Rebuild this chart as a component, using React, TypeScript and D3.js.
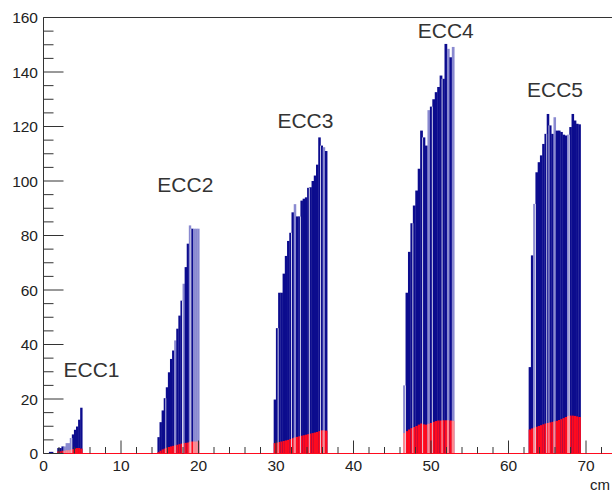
import React from "react";
import * as d3 from "d3";

// ---- data ----
const eccNames = ["ECC1", "ECC2", "ECC3", "ECC4", "ECC5"];
const eccStart = [0.7, 14.7, 29.7, 46.4, 62.6];
const eccEnd = [5.0, 20.1, 36.6, 53.0, 69.3];

const ecc1Blue = [0.6, 0.6, 0, 0, 2, 2, 2.6, 2.6, 3.8, 3.8, 5.7, 7, 8.7, 9.9, 12.4, 16.8];
const ecc1Red = [0, 0, 0, 0, 0.8, 0.8, 1, 1, 1.2, 1.2, 1.4, 1.6, 1.8, 2, 2, 1.8];
const ecc1Light = [7, 8, 9, 10];
const ecc1Gaps = [11];

const ecc2Blue = [6, 11.5, 15.8, 20.3, 24.3, 29.8, 34.7, 37.8, 41.5, 45.8, 50.6, 56.1, 62.3, 68.4, 77, 83.7, 82.5, 82.5, 82.5, 82.5];
const ecc2Red = [0.5, 1, 1.5, 1.8, 2.1, 2.4, 2.6, 2.8, 3, 3.2, 3.4, 3.6, 3.8, 3.9, 4, 4.3, 4.4, 4.4, 4.4, 4.4];
const ecc2Light = [8, 12, 15, 17, 18, 19];
const ecc2Gaps = [4, 12, 16];

const ecc3Blue = [19.8, 46, 59, 59, 66, 72.5, 78, 81, 88.5, 91.5, 87, 87, 92.8, 93.5, 94, 97.5, 97.7, 100, 102, 106, 116, 113, 112.4, 111];
const ecc3Red = [3.8, 4, 4.2, 4.4, 4.6, 4.8, 5, 5.3, 5.6, 5.9, 6.1, 6.3, 6.5, 6.7, 6.9, 7.1, 7.3, 7.5, 7.7, 7.9, 8.2, 8.5, 8.5, 8.4];
const ecc3Light = [9, 22];
const ecc3Gaps = [2, 8, 12, 16, 21];

const ecc4Blue = [25, 59, 74, 84.5, 91, 96.5, 104.5, 118.5, 116, 113, 126, 127.3, 130, 132.6, 134.5, 138.7, 137.5, 150.3, 148.5, 145.4, 149.2];
const ecc4Red = [7.5, 8.2, 8.8, 9.3, 9.7, 10.1, 10.6, 11, 10.7, 10.6, 10.9, 11.2, 11.6, 11.9, 12.1, 12.1, 12.2, 12.2, 12.2, 12.1, 12];
const ecc4Light = [0, 10, 18, 20];
const ecc4Gaps = [1, 4, 8, 12, 16];

const ecc5Blue = [31.7, 72.7, 91.6, 103.2, 106.9, 109.4, 113.6, 117.3, 124.6, 120.4, 117.3, 123.4, 118.5, 118.5, 118, 117, 116.7, 117, 119.8, 124.6, 122.2, 121, 120.8];
const ecc5Red = [8.8, 9.2, 9.5, 9.8, 10.1, 10.4, 10.7, 11, 11.2, 11.4, 11.6, 11.8, 12, 12.3, 12.6, 13, 13.4, 13.8, 13.9, 13.9, 13.8, 13.6, 13.4];
const ecc5Light = [2, 11, 17];
const ecc5Gaps = [3, 8, 9, 18];

const eccBlue = [ecc1Blue, ecc2Blue, ecc3Blue, ecc4Blue, ecc5Blue];
const eccRed = [ecc1Red, ecc2Red, ecc3Red, ecc4Red, ecc5Red];
const eccLight = [ecc1Light, ecc2Light, ecc3Light, ecc4Light, ecc5Light];
const eccGaps = [ecc1Gaps, ecc2Gaps, ecc3Gaps, ecc4Gaps, ecc5Gaps];

// label anchors in data coordinates
const labelX = [6.2, 18.3, 33.8, 51.9, 66.0];
const labelY = [28, 96, 119.5, 152.5, 131];

const xTicksMajor = [0, 10, 20, 30, 40, 50, 60, 70, 80];
const xTickLabels = [0, 10, 20, 30, 40, 50, 60, 70];
const yTicksMajor = [0, 20, 40, 60, 80, 100, 120, 140, 160];

const W = 612;
const H = 492;

export default function App() {
  React.useEffect(() => {
    document.body.style.margin = "0";
  }, []);

  const x = d3.scaleLinear().domain([0, 80]).range([43.5, 663.5]);
  const y = d3.scaleLinear().domain([0, 160]).range([453.5, 17.5]);

  const xMinor = d3.range(0, 81, 2).filter((v) => v % 10 !== 0);
  const yMinor = d3.range(0, 161, 5).filter((v) => v % 20 !== 0);

  const blue = "#0c0c8e";
  const blueLight = "#8a8ad0";
  const red = "#ff0a1e";
  const redLight = "#ff8a90";
  const axisCol = "#333";
  const font = "'Liberation Sans', Arial, Helvetica, sans-serif";

  const bars: any[] = [];
  eccNames.forEach((name, k) => {
    const vals = eccBlue[k];
    const reds = eccRed[k];
    const n = vals.length;
    const w = (eccEnd[k] - eccStart[k]) / n;
    vals.forEach((v, i) => {
      const x0 = x(eccStart[k] + i * w);
      const x1 = x(eccStart[k] + (i + 1) * w);
      const light = eccLight[k].includes(i);
      if (v > 0) {
        bars.push(
          <rect key={`b${k}-${i}`} x={x0} y={y(v)} width={x1 - x0 + 0.3} height={y(0) - y(v)} fill={light ? blueLight : blue} />
        );
      }
      const r = reds[i];
      if (r > 0) {
        bars.push(
          <rect key={`r${k}-${i}`} x={x0} y={y(r)} width={x1 - x0 + 0.3} height={y(0) - y(r)} fill={light ? redLight : red} />
        );
      }
    });
    eccGaps[k].forEach((g) => {
      const gx = x(eccStart[k] + g * w);
      bars.push(
        <line key={`g${k}-${g}`} x1={gx} x2={gx} y1={y(Math.min(vals[g - 1] ?? 0, vals[g] ?? 0))} y2={y(0)} stroke="#ffffff" strokeWidth={0.9} opacity={0.85} />
      );
    });
  });

  return (
    <svg width={W} height={H} style={{ position: "absolute", left: 0, top: 0, background: "#fff" }} fontFamily={font}>
      <rect x={0} y={0} width={W} height={H} fill="#fff" />
      {bars}
      {/* red zero line of the histogram */}
      <line x1={x(0)} x2={W} y1={y(0)} y2={y(0)} stroke={red} strokeWidth={1.2} />
      {/* frame */}
      <line x1={x(0)} x2={x(0)} y1={y(160)} y2={y(0)} stroke={axisCol} strokeWidth={1} />
      <line x1={x(0)} x2={x(80)} y1={y(160)} y2={y(160)} stroke={axisCol} strokeWidth={1} />
      {/* y ticks */}
      {yTicksMajor.map((t) => (
        <line key={`yM${t}`} x1={x(0)} x2={x(0) + 20} y1={y(t)} y2={y(t)} stroke={axisCol} strokeWidth={1} />
      ))}
      {yMinor.map((t) => (
        <line key={`ym${t}`} x1={x(0)} x2={x(0) + 10} y1={y(t)} y2={y(t)} stroke={axisCol} strokeWidth={1} />
      ))}
      {yTicksMajor.map((t) => (
        <text key={`yl${t}`} x={38} y={y(t) + 5.5} textAnchor="end" fontSize={15.5} fill="#222">
          {t}
        </text>
      ))}
      {/* x ticks */}
      {xTicksMajor.map((t) => (
        <line key={`xM${t}`} x1={x(t)} x2={x(t)} y1={y(0)} y2={y(0) - 13} stroke={axisCol} strokeWidth={1} />
      ))}
      {xMinor.map((t) => (
        <line key={`xm${t}`} x1={x(t)} x2={x(t)} y1={y(0)} y2={y(0) - 6.5} stroke={axisCol} strokeWidth={1} />
      ))}
      {xTickLabels.map((t) => (
        <text key={`xl${t}`} x={x(t)} y={471} textAnchor="middle" fontSize={15.5} fill="#222">
          {t}
        </text>
      ))}
      <text x={610} y={490} textAnchor="end" fontSize={15} fill="#222">
        cm
      </text>
      {/* ECC labels */}
      {eccNames.map((nm, k) => (
        <text key={nm} x={x(labelX[k])} y={y(labelY[k])} textAnchor="middle" fontSize={21} fill="#333">
          {nm}
        </text>
      ))}
    </svg>
  );
}
